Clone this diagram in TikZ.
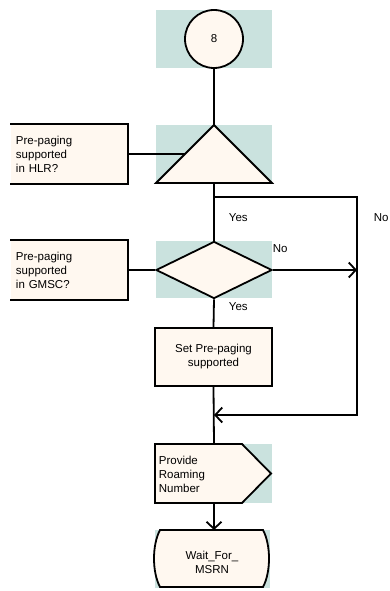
\documentclass[tikz,border=0pt]{standalone}
\usepackage{fontspec}
\setmainfont{Liberation Sans}
\usetikzlibrary{arrows.meta,shapes.geometric}
\definecolor{symbg}{RGB}{202,226,222}
\definecolor{symfill}{RGB}{255,248,240}

\begin{document}
\begin{tikzpicture}[x=1pt, y=-1pt, >={Straight Barb[length=7pt,width=15pt]},
  line width=1.8pt, font=\fontsize{11.5}{14}\selectfont,
  bgbox/.style={fill=symbg},
  sym/.style={draw, fill=symfill},
  combox/.style={fill=symfill, minimum width=116pt, minimum height=58pt,
    text width=106pt, inner sep=5pt, align=left},
  taskbox/.style={sym, minimum width=117pt, minimum height=58pt, align=center},
  lbl/.style={anchor=west, inner sep=0pt}]
  \useasboundingbox (0,0) rectangle (390,591);
  \fill[bgbox] (156,10) rectangle (272,68);
  \fill[bgbox] (156,125) rectangle (272,183);
  \fill[bgbox] (156,241) rectangle (272,298);
  \fill[bgbox] (155,444) rectangle (272,503);
  \fill[bgbox] (155,530) rectangle (270,588);

  \node[sym, circle, minimum size=58pt, inner sep=0pt] (c8) at (214,39) {8};

  \node[combox] (hlrtxt) at (69,154) {Pre-paging\\supported\\in HLR?};
  \draw (hlrtxt.north west) -- (hlrtxt.north east) -- (hlrtxt.south east) -- (hlrtxt.south west);
  \draw[sym] (214,125) -- (272,183) -- (156,183) -- cycle;
  \coordinate (hlrtop) at (214,125);
  \coordinate (hlrleft) at (185,154);
  \coordinate (hlrbot) at (214,183);
  \coordinate (hlrfork) at (214,197);
  \coordinate (nocorner) at (357,197);
  \coordinate (nojoin) at (357,415);
  \coordinate (merge) at (214,415);

  \node[combox] (gmsctxt) at (69,270) {Pre-paging\\supported\\in GMSC?};
  \draw (gmsctxt.north west) -- (gmsctxt.north east) -- (gmsctxt.south east) -- (gmsctxt.south west);
  \node[sym, diamond, minimum width=116pt, minimum height=57pt, inner sep=0pt] (gmscq) at (214,270) {};
  \coordinate (noend) at (357,270);

  \node[taskbox] (setpp) at (213.5,357) {Set Pre-paging\\supported};

  \draw[sym] (155,444) -- (242,444) -- (271,473.5) -- (242,503) -- (155,503) -- cycle;
  \node[lbl, align=left] (prn) at (158,474) {Provide\\Roaming\\Number};
  \coordinate (prntop) at (214,444);
  \coordinate (prnbot) at (214,503);

  \draw[sym] (160,530) -- (263,530) .. controls (271,545) and (271,572) .. (263,587)
    -- (160,587) .. controls (152,572) and (152,545) .. (160,530) -- cycle;
  \node[align=center, inner sep=0pt] (wfm) at (212,562) {Wait\_For\_\\MSRN};
  \coordinate (wfmtop) at (214,530);

  \draw (c8.south) -- (hlrtop);
  \draw (hlrtxt.east) -- (hlrleft);
  \draw (hlrbot) -- (gmscq.north);
  \draw[->] (hlrfork) -- (nocorner) -- (nojoin) -- (merge);
  \draw (gmsctxt.east) -- (gmscq.west);
  \draw[->] (gmscq.east) -- (noend);
  \draw (gmscq.south) -- (setpp.north);
  \draw (setpp.south) -- (prntop);
  \draw[->] (prnbot) -- (wfmtop);

  \node[lbl] (yes1) at (228,218) {Yes};
  \node[lbl] (no1) at (373,218) {No};
  \node[lbl] (no2) at (272,249) {No};
  \node[lbl] (yes2) at (228,307) {Yes};
\end{tikzpicture}
\end{document}
